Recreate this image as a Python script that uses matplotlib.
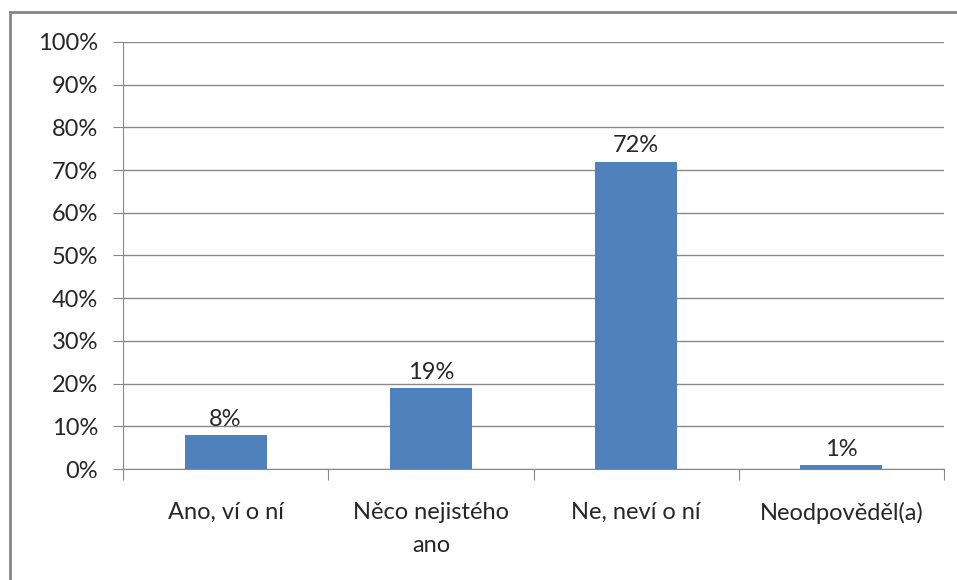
import matplotlib
matplotlib.use("Agg")
import matplotlib.pyplot as plt
from matplotlib.lines import Line2D

categories = ["Ano, ví o ní", "Něco nejistého\nano", "Ne, neví o ní", "Neodpověděl(a)"]
values = [8, 19, 72, 1]
yticks = [0, 10, 20, 30, 40, 50, 60, 70, 80, 90, 100]

plt.rcParams['font.family'] = ['Lato', 'DejaVu Sans']
fs = 17

W, H = 957, 580
fig = plt.figure(figsize=(W / 100, H / 100), dpi=100)

# outer frame of the chart (left and top edges visible)
grey = "#868686"
fig.add_artist(Line2D([10 / W, 10 / W], [0, 1 - 12 / H], transform=fig.transFigure, color=grey, lw=2))
fig.add_artist(Line2D([10 / W, 1], [1 - 12 / H, 1 - 12 / H], transform=fig.transFigure, color=grey, lw=2))

left, right = 123 / W, 944 / W
top, bottom = 1 - 42 / H, 1 - 469 / H
ax = fig.add_axes([left, bottom, right - left, top - bottom])

x = list(range(len(categories)))
ax.bar(x, values, width=0.4, color="#4F81BD", zorder=3)
for xi, v in zip(x, values):
    ax.text(xi, v + 1.2, f"{v}%", ha="center", va="bottom", fontsize=fs, color="#262626")

ax.set_xlim(-0.5, len(categories) - 0.5)
ax.set_ylim(0, 100)
ax.set_yticks(yticks)
ax.set_yticklabels([f"{t}%" for t in yticks], fontsize=fs, color="#262626")
ax.yaxis.grid(True, color="#898989", lw=1)
ax.set_axisbelow(True)

# category labels and boundary ticks
ax.set_xticks([i - 0.5 for i in range(len(categories) + 1)], minor=False)
ax.set_xticklabels([])
ax.set_xticks(x, minor=True)
ax.set_xticklabels(categories, minor=True, fontsize=fs, color="#262626", linespacing=1.7)
ax.tick_params(axis="x", which="minor", length=0, pad=24)
ax.tick_params(axis="x", which="major", length=8, color="#898989")
ax.tick_params(axis="y", length=7, color="#898989", pad=11)

for s in ["top", "right"]:
    ax.spines[s].set_visible(False)
ax.spines["left"].set_color("#898989")
ax.spines["bottom"].set_color("#898989")

fig.savefig("out.png", dpi=100)
